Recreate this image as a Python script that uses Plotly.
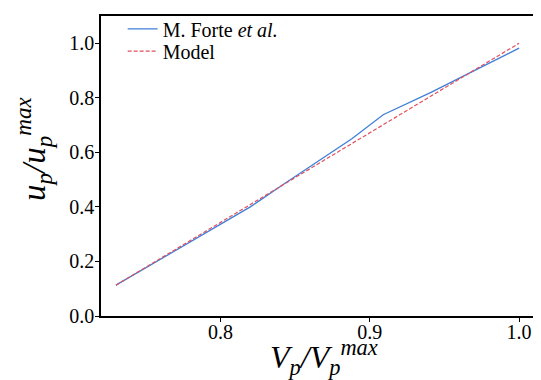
import plotly.graph_objects as go

# Data
forte_x = [0.730, 0.760, 0.786, 0.820, 0.843, 0.888, 0.909, 0.941, 0.970, 1.000]
forte_y = [0.113, 0.208, 0.290, 0.400, 0.486, 0.650, 0.738, 0.820, 0.900, 0.982]
model_x = [0.730, 0.760, 0.800, 0.850, 0.900, 0.950, 1.000]
model_y = [0.113, 0.212, 0.343, 0.508, 0.672, 0.836, 1.000]

x_ticks = [0.8, 0.9, 1.0]
y_ticks = [0.0, 0.2, 0.4, 0.6, 0.8, 1.0]

x_title = "<i>V<sub>p</sub>/V<sub>p</sub><sup>max</sup></i>"
y_title = "<i>u<sub>p</sub>/u<sub>p</sub><sup>max</sup></i>"

FONT = "Liberation Serif"

fig = go.Figure()
fig.add_trace(go.Scatter(
    x=forte_x, y=forte_y, mode="lines",
    name="M. Forte <i>et al.</i>", legend="legend",
    line=dict(color="#3f7fd8", width=1.3),
))
fig.add_trace(go.Scatter(
    x=model_x, y=model_y, mode="lines",
    name="Model", legend="legend2",
    line=dict(color="#e0505e", width=1.2, dash="4px,2px"),
))

axis_common = dict(
    showgrid=False, zeroline=False,
    showline=True, linecolor="black", linewidth=1.5, mirror=True,
    ticks="outside", ticklen=4, tickwidth=1.2, tickcolor="black",
    tickfont=dict(family=FONT, size=20, color="black"),
)

legend_common = dict(
    xanchor="left", yanchor="middle",
    bgcolor="rgba(0,0,0,0)", borderwidth=0,
    font=dict(family=FONT, size=20, color="black"),
    itemwidth=30,
)

# page body has an 8px margin, so the figure is 8px smaller than the window
fig.update_layout(
    width=533, height=372,
    margin=dict(l=93, r=7, t=1, b=64),
    paper_bgcolor="white", plot_bgcolor="white",
    font=dict(family=FONT, color="black"),
    showlegend=True,
    legend=dict(x=0.05, y=0.957, **legend_common),
    legend2=dict(x=0.05, y=0.883, **legend_common),
    xaxis=dict(
        range=[0.72, 1.01],
        tickvals=x_ticks, ticktext=[f"{v:.1f}" for v in x_ticks],
        ticklabelstandoff=-7,
        **axis_common,
    ),
    yaxis=dict(
        range=[0.0, 1.1],
        tickvals=y_ticks, ticktext=[f"{v:.1f}" for v in y_ticks],
        ticklabelstandoff=-3,
        **axis_common,
    ),
    annotations=[
        dict(text=x_title, xref="paper", yref="paper", x=0.5, y=0,
             xanchor="center", yanchor="middle", xshift=6, yshift=-41,
             showarrow=False, font=dict(family=FONT, size=32, color="black")),
        dict(text=y_title, xref="paper", yref="paper", x=0, y=0.5,
             xanchor="center", yanchor="middle", xshift=-68, yshift=17,
             textangle=-90, showarrow=False,
             font=dict(family=FONT, size=33, color="black")),
    ],
)

fig.write_html("out.html")
